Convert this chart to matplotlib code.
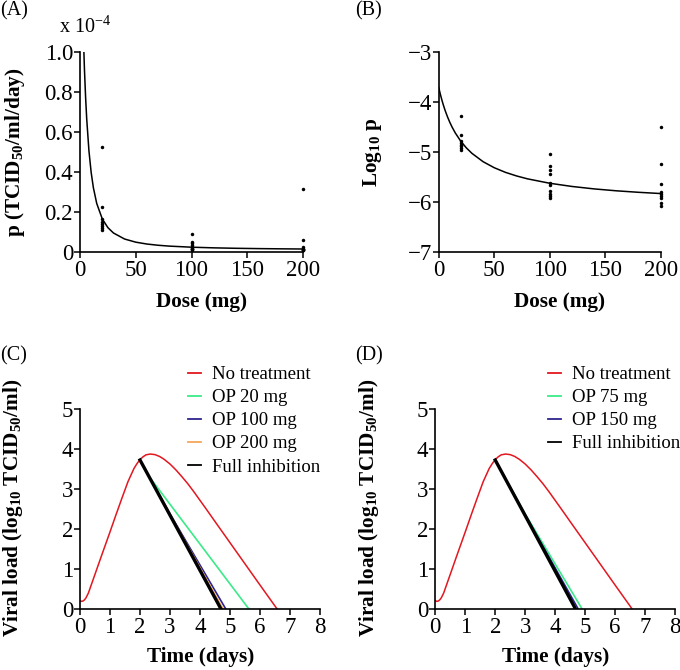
import numpy as np
import matplotlib
matplotlib.use("Agg")
import matplotlib.pyplot as plt
from matplotlib.lines import Line2D

plt.rcParams['font.family'] = ['Liberation Serif', 'DejaVu Serif']
plt.rcParams['mathtext.fontset'] = 'custom'
plt.rcParams['mathtext.rm'] = 'Liberation Serif'
plt.rcParams['mathtext.bf'] = 'Liberation Serif:bold'
plt.rcParams['mathtext.it'] = 'Liberation Serif:italic'

# ---------------- data ----------------
# observed log10 p at each dose
dose20_logp = [-4.28, -4.65, -4.78, -4.82, -4.85, -4.88, -4.92, -4.96]
dose100_logp = [-5.04, -5.28, -5.36, -5.44, -5.62, -5.65, -5.78, -5.83, -5.88, -5.92]
dose200_logp = [-4.50, -5.23, -5.64, -5.80, -5.84, -5.88, -5.92, -6.02, -6.08]

# fitted curve
fit_dose = [0, 1, 2, 3, 4, 5, 6, 8, 10, 12, 15, 20, 25, 30, 40, 50, 60, 70, 80,
            100, 120, 140, 160, 180, 200]
fit_logp = [-3.700, -3.795, -3.883, -3.964, -4.040, -4.110, -4.176, -4.295, -4.400,
            -4.493, -4.615, -4.782, -4.914, -5.022, -5.188, -5.308, -5.400, -5.472,
            -5.531, -5.619, -5.683, -5.732, -5.770, -5.800, -5.825]

# viral load (log10 TCID50/ml)
t_none = [0, 0.05, 0.1, 0.15, 0.2, 0.28, 0.35, 0.5, 0.72, 1.0, 1.2, 1.4, 1.6, 1.8, 1.9,
          2.0, 2.1, 2.2, 2.35, 2.5, 2.65, 2.8, 3.0, 3.2, 3.4, 3.6, 3.8, 4.0, 4.2, 4.5,
          5.0, 5.5, 6.0, 6.57]
v_none = [0.21, 0.19, 0.20, 0.23, 0.28, 0.40, 0.55, 0.87, 1.34, 1.93, 2.36, 2.78, 3.19,
          3.52, 3.64, 3.74, 3.81, 3.86, 3.88, 3.865, 3.82, 3.75, 3.63, 3.48, 3.31, 3.13,
          2.93, 2.72, 2.51, 2.19, 1.66, 1.13, 0.60, 0.0]

t_full = [2.0, 4.70]
v_full = [3.73, 0.0]

t_c20 = [2.0, 2.3, 5.63]
v_c20 = [3.73, 3.32, 0.0]
t_c100 = [2.0, 2.3, 3.0, 4.86]
v_c100 = [3.73, 3.32, 2.38, 0.0]
t_c200 = [2.0, 2.3, 3.0, 4.77]
v_c200 = [3.73, 3.32, 2.37, 0.0]

t_d75 = [2.0, 3.0, 4.90]
v_d75 = [3.73, 2.38, 0.0]
t_d150 = [2.0, 3.0, 4.77]
v_d150 = [3.73, 2.36, 0.0]
t_dfull = [2.0, 4.68]
v_dfull = [3.73, 0.0]

dose_ticks = [0, 50, 100, 150, 200]
a_yticks = [0, 0.2, 0.4, 0.6, 0.8, 1.0]
a_yticklabels = ['0', '0.2', '0.4', '0.6', '0.8', '1.0']
b_yticks = [-7, -6, -5, -4, -3]
time_ticks = [0, 1, 2, 3, 4, 5, 6, 7, 8]
vl_ticks = [0, 1, 2, 3, 4, 5]

labels_c = ['No treatment', 'OP 20 mg', 'OP 100 mg', 'OP 200 mg', 'Full inhibition']
labels_d = ['No treatment', 'OP 75 mg', 'OP 150 mg', 'Full inhibition']

RED = '#e2171f'
GREEN = '#3bea88'
BLUE = '#2e238e'
ORANGE = '#f6a75a'

W, H = 680, 670
fig = plt.figure(figsize=(W / 100, H / 100), dpi=100)


def ax_px(left, top, right, bottom):
    return fig.add_axes([left / W, 1 - bottom / H, (right - left) / W, (bottom - top) / H])


TICK_FS = 16.5
LAB_FS = 15.3


def style(ax):
    for s in ['top', 'right']:
        ax.spines[s].set_visible(False)
    for s in ['left', 'bottom']:
        ax.spines[s].set_linewidth(1.2)
    ax.tick_params(direction='out', length=4, width=1.1, labelsize=TICK_FS)
    ax.tick_params(axis='x', pad=1.5)
    ax.tick_params(axis='y', pad=1)


def ftext(x, y, s, **kw):
    fig.text(x / W, 1 - y / H, s, **kw)


# ---------------- Panel A ----------------
axA = ax_px(80, 52, 303, 252)
style(axA)
fit_p = [10 ** v / 1e-4 for v in fit_logp]
axA.plot(fit_dose, fit_p, color='black', lw=1.1)
for d, arr in [(20, dose20_logp), (100, dose100_logp), (200, dose200_logp)]:
    axA.plot([d] * len(arr), [10 ** v / 1e-4 for v in arr], 'o', color='black', ms=2.5,
             mew=0, clip_on=False)
axA.set_xlim(0, 200)
axA.set_ylim(0, 1.0)
axA.set_xticks(dose_ticks)
axA.set_yticks(a_yticks)
axA.set_yticklabels(a_yticklabels)

# ---------------- Panel B ----------------
axB = ax_px(438.7, 52.3, 660.7, 252.3)
style(axB)
axB.plot(fit_dose, fit_logp, color='black', lw=1.1)
for d, arr in [(20, dose20_logp), (100, dose100_logp), (200, dose200_logp)]:
    axB.plot([d] * len(arr), arr, 'o', color='black', ms=2.5, mew=0, clip_on=False)
axB.set_xlim(0, 200)
axB.set_ylim(-7, -3)
axB.set_xticks(dose_ticks)
axB.set_yticks(b_yticks)

# ---------------- Panel C ----------------
axC = ax_px(80, 409.3, 320, 609)
style(axC)
axC.plot(t_none, v_none, color=RED, lw=1.1)
axC.plot(t_c20, v_c20, color=GREEN, lw=1.2)
axC.plot(t_c100, v_c100, color=BLUE, lw=1.2)
axC.plot(t_c200, v_c200, color=ORANGE, lw=1.2)
axC.plot(t_full, v_full, color='black', lw=2.4)
axC.set_xlim(0, 8)
axC.set_ylim(0, 5)
axC.set_xticks(time_ticks)
axC.set_yticks(vl_ticks)

# ---------------- Panel D ----------------
axD = ax_px(435.3, 409.3, 675, 609)
style(axD)
axD.plot(t_none, v_none, color=RED, lw=1.1)
axD.plot(t_d75, v_d75, color=GREEN, lw=1.2)
axD.plot(t_d150, v_d150, color=BLUE, lw=1.2)
axD.plot(t_dfull, v_dfull, color='black', lw=2.4)
axD.set_xlim(0, 8)
axD.set_ylim(0, 5)
axD.set_xticks(time_ticks)
axD.set_yticks(vl_ticks)

# legends
cols_c = [RED, GREEN, BLUE, ORANGE, 'black']
cols_d = [RED, GREEN, BLUE, 'black']
leg_kw = dict(frameon=False, fontsize=13.5, handlelength=0.7, handletextpad=0.6,
              labelspacing=0.32, borderpad=0, borderaxespad=0, loc='upper left',
              bbox_transform=fig.transFigure)
hc = [Line2D([], [], color=c, lw=1.3) for c in cols_c]
axC.legend(hc, labels_c, bbox_to_anchor=(188 / W, 1 - 366 / H), **leg_kw)
hd = [Line2D([], [], color=c, lw=1.3) for c in cols_d]
axD.legend(hd, labels_d, bbox_to_anchor=(548 / W, 1 - 366 / H), **leg_kw)

# labels
ftext(15, 152, r'p (TCID$_{\mathbf{50}}$/ml/day)', rotation=90, ha='center', va='center',
      fontsize=LAB_FS, fontweight='bold')
ftext(372, 152, r'Log$_{\mathbf{10}}$ p', rotation=90, ha='center', va='center',
      fontsize=LAB_FS, fontweight='bold')
vl_label = r'Viral load (log$_{\mathbf{10}}$ TCID$_{\mathbf{50}}$/ml)'
ftext(13, 508, vl_label, rotation=90, ha='center', va='center', fontsize=LAB_FS,
      fontweight='bold')
ftext(369, 508, vl_label, rotation=90, ha='center', va='center', fontsize=LAB_FS,
      fontweight='bold')
ftext(201, 302, 'Dose (mg)', ha='center', va='center', fontsize=LAB_FS, fontweight='bold')
ftext(559, 302, 'Dose (mg)', ha='center', va='center', fontsize=LAB_FS, fontweight='bold')
ftext(201, 657, 'Time (days)', ha='center', va='center', fontsize=LAB_FS, fontweight='bold')
ftext(556, 657, 'Time (days)', ha='center', va='center', fontsize=LAB_FS, fontweight='bold')

ftext(0, 1, '(A)', ha='left', va='top', fontsize=14.5)
ftext(355, 1, '(B)', ha='left', va='top', fontsize=14.5)
ftext(0, 346, '(C)', ha='left', va='top', fontsize=14.5)
ftext(355, 346, '(D)', ha='left', va='top', fontsize=14.5)
ftext(59, 33, r'x 10$^{-4}$', ha='left', va='baseline', fontsize=14.5)

fig.savefig('out.png', dpi=100)
